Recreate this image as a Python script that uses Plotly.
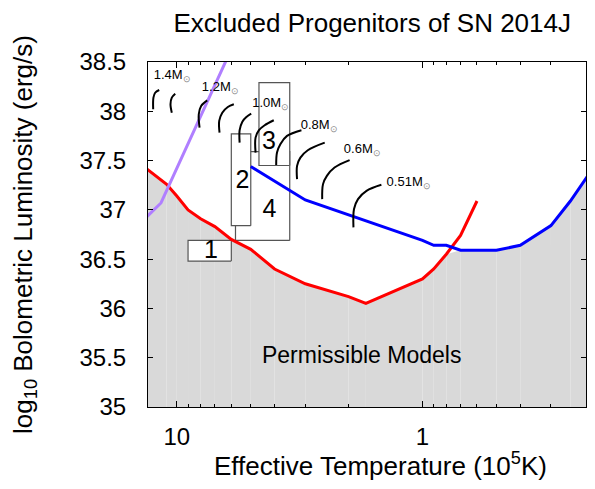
import numpy as np
import plotly.graph_objects as go

# ---------------- data ----------------
red_T = [13.5, 11, 10, 9, 8, 7, 6, 5, 4, 3, 2, 1.7, 1, 0.9, 0.8, 0.7, 0.6]
red_L = [37.43, 37.26, 37.14, 37.00, 36.91, 36.83, 36.70, 36.60, 36.40, 36.25,
         36.12, 36.05, 36.30, 36.40, 36.55, 36.74, 37.09]

blue_T = [5, 3, 1, 0.9, 0.8, 0.7, 0.5, 0.4, 0.3, 0.25, 0.2]
blue_L = [37.44, 37.10, 36.69, 36.64, 36.64, 36.59, 36.59, 36.64, 36.84, 37.09, 37.44]

purple_T = [13.5, 11.6, 6.0]
purple_L = [36.91, 37.07, 38.63]

# boxes (excluded regions)
box_names = ["4", "2", "3", "1"]
box_T_lo = [3.47, 5.0, 3.47, 6.0]
box_T_hi = [5.77, 6.0, 4.63, 9.0]
box_L_lo = [36.69, 36.84, 37.45, 36.48]
box_L_hi = [37.59, 37.77, 38.29, 36.69]
box_label_T = [4.20, 5.41, 4.22, 7.27]
box_label_L = [36.99, 37.29, 37.68, 36.57]

# white dwarf tracks (one per mass)
track_T = [
    [12.48, 12.45, 12.25, 11.79],
    [10.48, 10.61, 10.48, 10.15],
    [8.08, 8.14, 7.96, 7.52],
    [6.70, 6.72, 6.53, 6.20, 5.86],
    [5.55, 5.55, 5.41, 5.21, 4.98],
    [4.78, 4.78, 4.63, 4.39, 4.03],
    [3.94, 3.91, 3.79, 3.56, 3.11],
    [3.24, 3.24, 3.14, 2.93, 2.50],
    [2.56, 2.54, 2.45, 2.28, 1.98],
    [1.91, 1.90, 1.83, 1.69, 1.47],
]
track_L = [
    [38.020, 38.138, 38.188, 38.216],
    [37.986, 38.071, 38.138, 38.178],
    [37.834, 37.970, 38.054, 38.111],
    [37.783, 37.902, 37.986, 38.044, 38.071],
    [37.682, 37.808, 37.895, 37.942, 37.976],
    [37.581, 37.733, 37.808, 37.858, 37.909],
    [37.456, 37.581, 37.666, 37.750, 37.808],
    [37.312, 37.446, 37.530, 37.605, 37.682],
    [37.109, 37.261, 37.345, 37.429, 37.504],
    [36.822, 37.008, 37.109, 37.193, 37.254],
]

mass_labels = ["1.4", "1.2", "1.0", "0.8", "0.6", "0.51"]
mass_label_T = [12.41, 7.91, 4.93, 3.13, 2.09, 1.40]
mass_label_L = [38.357, 38.239, 38.077, 37.851, 37.605, 37.277]

region_text = "Permissible Models"
region_T = 1.768
region_L = 35.50

x_major = [10, 1]
x_minor = [9, 8, 7, 6, 5, 4, 3, 2, 0.9, 0.8, 0.7, 0.6, 0.5, 0.4, 0.3, 0.2]

x_title = "Effective Temperature (10<sup>5</sup>K)"
y_title = "log<sub>10</sub> Bolometric Luminosity (erg/s)"
main_title = "Excluded Progenitors of SN 2014J"

# ---------------- helpers ----------------
FONT = "Liberation Sans, Arial, Helvetica, sans-serif"
GREY = "#d9d9d9"


def interp(T, Ts, Ls):
    lt = np.log10(np.array(Ts, dtype=float))[::-1]
    lv = np.array(Ls, dtype=float)[::-1]
    t = np.log10(T)
    if t < lt[0] - 1e-9 or t > lt[-1] + 1e-9:
        return None
    return float(np.interp(t, lt, lv))


fill_T = sorted(set(red_T) | set(blue_T), reverse=True)
fill_L = []
for T in fill_T:
    vals = [v for v in (interp(T, red_T, red_L), interp(T, blue_T, blue_L)) if v is not None]
    fill_L.append(min(vals))

fig = go.Figure()

# shaded permissible region, drawn as adjacent strips
for i in range(len(fill_T) - 1):
    fig.add_trace(go.Scatter(
        x=[fill_T[i], fill_T[i + 1], fill_T[i + 1], fill_T[i], fill_T[i]],
        y=[35, 35, fill_L[i + 1], fill_L[i], 35],
        mode="lines", fill="toself", fillcolor=GREY,
        line=dict(width=0), hoverinfo="skip", showlegend=False))

# boxes
for n, tl, th, ll, lh in zip(box_names, box_T_lo, box_T_hi, box_L_lo, box_L_hi):
    fig.add_trace(go.Scatter(
        x=[tl, th, th, tl, tl], y=[ll, ll, lh, lh, ll],
        mode="lines", fill="toself", fillcolor="white",
        line=dict(color="#555555", width=1.2), hoverinfo="skip", showlegend=False))

fig.add_trace(go.Scatter(
    x=box_label_T, y=box_label_L, text=box_names, mode="text",
    textfont=dict(size=25, color="black", family=FONT),
    textposition="middle center", hoverinfo="skip", showlegend=False))

# curves
fig.add_trace(go.Scatter(x=red_T, y=red_L, mode="lines",
                         line=dict(color="#ff0000", width=3),
                         hoverinfo="skip", showlegend=False))
fig.add_trace(go.Scatter(x=blue_T, y=blue_L, mode="lines",
                         line=dict(color="#0000ff", width=3),
                         hoverinfo="skip", showlegend=False))
fig.add_trace(go.Scatter(x=purple_T, y=purple_L, mode="lines",
                         line=dict(color="#b07fff", width=3),
                         hoverinfo="skip", showlegend=False))

# tracks
for tT, tL in zip(track_T, track_L):
    fig.add_trace(go.Scatter(x=tT, y=tL, mode="lines",
                             line=dict(color="black", width=2, shape="spline"),
                             hoverinfo="skip", showlegend=False))

fig.add_trace(go.Scatter(
    x=mass_label_T, y=mass_label_L,
    text=[m + "M<sub><span style='color:#8c8c8c'>\u2299</span></sub>" for m in mass_labels],
    mode="text", textposition="middle right",
    textfont=dict(size=13, color="black", family=FONT),
    hoverinfo="skip", showlegend=False))

fig.add_trace(go.Scatter(
    x=[region_T], y=[region_L], text=[region_text], mode="text",
    textposition="middle center",
    textfont=dict(size=23, color="black", family=FONT),
    hoverinfo="skip", showlegend=False))

# the page body adds an 8px margin, so the figure is sized to fit the visible window
W, H = 579, 473
fig.update_layout(
    width=W, height=H,
    margin=dict(l=140, r=1, t=54, b=74),
    paper_bgcolor="white", plot_bgcolor="white",
    font=dict(family=FONT, size=24, color="black"),
    title=dict(text=main_title, x=0.512, xanchor="center",
               xref="paper", y=1 - 15 / H, yref="container", yanchor="middle",
               font=dict(size=26)),
    showlegend=False,
)

fig.add_annotation(text=x_title, xref="paper", yref="paper",
                   x=0.53, y=-0.168, xanchor="center", yanchor="middle",
                   showarrow=False, font=dict(size=26, family=FONT, color="black"))

fig.update_xaxes(
    type="log", range=[np.log10(13.1), np.log10(0.216)],
    tickmode="array", tickvals=x_major, ticktext=[str(v) for v in x_major],
    ticks="inside", ticklen=6, tickwidth=1, tickcolor="black",
    minor=dict(tickmode="array", tickvals=x_minor, ticks="inside", ticklen=3,
               tickwidth=1, tickcolor="black", showgrid=False),
    showline=True, linecolor="black", linewidth=1, mirror="ticks",
    showgrid=False, zeroline=False,
    tickfont=dict(size=24), ticklabelstandoff=8,
)
fig.update_yaxes(
    range=[35, 38.5], tick0=35, dtick=0.5,
    ticks="inside", ticklen=5, tickwidth=1, tickcolor="black",
    showline=True, linecolor="black", linewidth=1, mirror="ticks",
    showgrid=False, zeroline=False,
    tickfont=dict(size=24), ticklabelstandoff=16,
    title=dict(text=y_title, standoff=40, font=dict(size=26)),
)

fig.write_html("out.html")
